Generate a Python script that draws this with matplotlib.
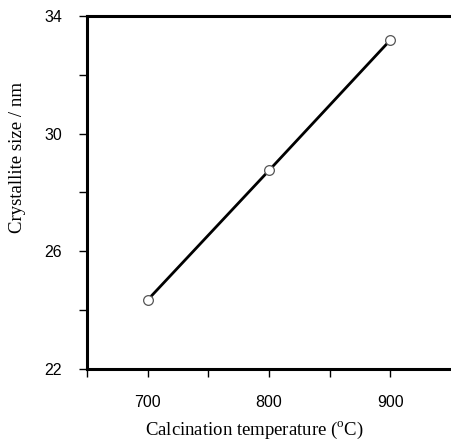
import matplotlib
matplotlib.use("Agg")
import matplotlib.pyplot as plt

temperature = [700, 800, 900]
crystallite_size = [24.35, 28.75, 33.18]
x_ticks = [650, 700, 750, 800, 850, 900]
x_tick_labels = ["", "700", "", "800", "", "900"]
y_ticks = [22, 24, 26, 28, 30, 32, 34]
y_tick_labels = ["22", "", "26", "", "30", "", "34"]

plt.rcParams['mathtext.fontset'] = 'custom'
plt.rcParams['mathtext.rm'] = 'Liberation Serif'

fig = plt.figure(figsize=(4.51, 4.42), dpi=100)
ax = fig.add_axes([0.193, 0.165, 0.807, 0.799])

ax.plot(temperature, crystallite_size, color='black', lw=2.0, zorder=2)
ax.plot(temperature, crystallite_size, ls='none', marker='o', ms=7,
        mfc='white', mec='#555555', mew=0.9, zorder=3)

ax.set_xlim(650, 950)
ax.set_ylim(22, 34)
ax.set_xticks(x_ticks)
ax.set_xticklabels(x_tick_labels, family='Liberation Sans', fontsize=11.5)
ax.set_yticks(y_ticks)
ax.set_yticklabels(y_tick_labels, family='Liberation Sans', fontsize=11.5)
ax.tick_params(direction='out', length=6, width=1, pad=12)
ax.tick_params(axis='x', pad=13)

ax.spines['right'].set_visible(False)
for s in ['left', 'top', 'bottom']:
    ax.spines[s].set_linewidth(2.2)

ax.set_xlabel(r'Calcination temperature ($^{\rm o}$C)', family='Liberation Serif',
              fontsize=13.5)
ax.set_ylabel('Crystallite size / nm', family='Liberation Serif',
              fontsize=13.5)
ax.xaxis.set_label_coords(0.459, -0.145)
ax.yaxis.set_label_coords(-0.168, 0.598)

fig.savefig('out.png', dpi=100)
